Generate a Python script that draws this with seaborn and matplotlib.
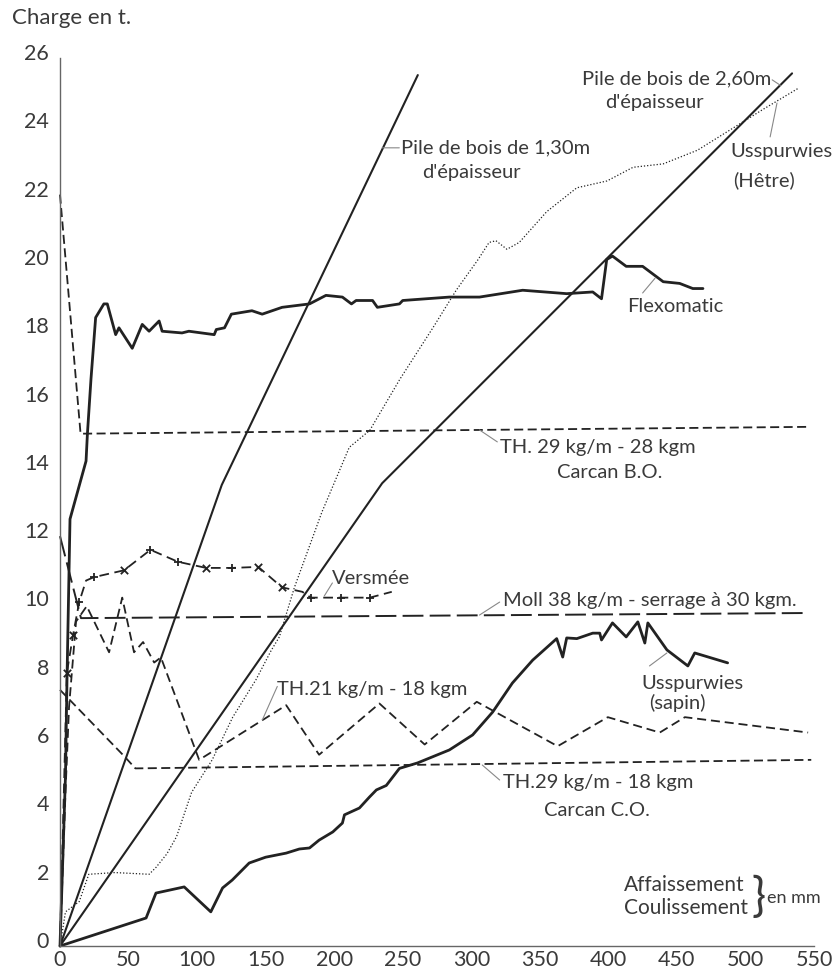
import matplotlib
matplotlib.use("Agg")
import matplotlib.pyplot as plt
import matplotlib.transforms as mtransforms
import seaborn as sns

# ---------------- data: charge (t) vs. affaissement / coulissement (mm) ----------------
x_ticks = list(range(0, 551, 50))
y_ticks = list(range(0, 27, 2))

pile130_x = [0, 118, 261]
pile130_y = [0, 13.5, 25.5]

pile260_x = [0, 235, 534]
pile260_y = [0, 13.55, 25.55]

hetre_x = [0, 4, 14, 21, 40, 65, 70, 78, 85, 96, 111, 126, 143, 154, 160, 171, 191, 211,
           226, 248, 272, 289, 305, 313, 318, 326, 335, 355, 377, 399, 418, 440, 465, 489,
           513, 538]
hetre_y = [0, 1.0, 1.3, 2.1, 2.15, 2.1, 2.3, 2.7, 3.2, 4.5, 5.45, 6.7, 7.8, 8.65, 9.05,
           10.5, 12.7, 14.6, 15.1, 16.6, 18.1, 19.2, 20.1, 20.6, 20.65, 20.4, 20.6, 21.5,
           22.2, 22.4, 22.8, 22.9, 23.3, 23.9, 24.5, 25.1]

flex_x = [0, 4, 5.1, 7.3, 19, 20, 22.6, 26, 32, 34.5, 40.6, 43, 52.7, 60, 65, 72.3, 74.5,
          89, 94, 112.5, 114, 120, 125, 140, 147.5, 162, 182, 194, 206, 212.6, 216, 228,
          231.5, 247.6, 250, 284, 306, 337.5, 369.6, 388.6, 395, 398.8, 403, 413, 425, 440,
          452, 461.6, 469]
flex_y = [0, 5, 7.8, 12.5, 14.2, 15.0, 16.6, 18.4, 18.8, 18.8, 17.9, 18.1, 17.5, 18.2,
          18.0, 18.3, 18.0, 17.95, 18.0, 17.9, 18.05, 18.1, 18.5, 18.6, 18.5, 18.7, 18.8,
          19.05, 19.0, 18.8, 18.9, 18.9, 18.7, 18.8, 18.9, 19.0, 19.0, 19.2, 19.1, 19.15,
          18.95, 20.1, 20.2, 19.9, 19.9, 19.45, 19.4, 19.25, 19.25]

th28_x = [0, 15, 545]
th28_y = [22, 15.0, 15.2]

thco_x = [0, 47, 55, 548]
thco_y = [7.5, 5.55, 5.2, 5.45]

th21_x = [0, 4, 6.6, 11.7, 19.5, 35.8, 45.4, 54, 60.6, 68.7, 73.6, 101.5, 165, 189, 233,
          266, 304, 363, 399.6, 437.5, 455.8, 545.7]
th21_y = [0, 4.5, 7.0, 9.5, 9.95, 8.6, 10.2, 8.6, 8.9, 8.3, 8.45, 5.45, 7.05, 5.6, 7.1,
          5.9, 7.15, 5.85, 6.7, 6.25, 6.7, 6.25]

moll_x = [0, 15.3, 546]
moll_y = [12.0, 9.6, 9.75]

vers_x = [0, 5, 9.5, 14, 19, 24.8, 46.7, 66, 86, 106.6, 125.6, 144.6, 162, 176.8, 183, 205,
          226, 242]
vers_y = [0, 8.0, 9.1, 10.07, 10.7, 10.8, 11.0, 11.6, 11.25, 11.07, 11.07, 11.1, 10.5,
          10.37, 10.2, 10.2, 10.2, 10.37]
vers_mark = ["", "x", "x", "+", "", "+", "x", "+", "+", "x", "+", "x", "x", "", "+", "+",
             "+", ""]

sapin_x = [0, 62.8, 70, 90.6, 110, 118.6, 125.6, 138, 150, 165, 174.6, 182, 189, 199, 206,
           207.5, 218.4, 225.7, 230.8, 238, 247.6, 260.8, 284, 301, 315.6, 330, 344.8,
           362.3, 366.7, 369.6, 377, 388.6, 393.7, 395, 403, 413, 421.5, 426.6, 428.8,
           442.7, 458, 463, 487]
sapin_y = [0, 0.82, 1.55, 1.73, 1.0, 1.7, 1.93, 2.43, 2.6, 2.72, 2.84, 2.87, 3.1, 3.34,
           3.6, 3.84, 4.04, 4.36, 4.57, 4.7, 5.2, 5.36, 5.74, 6.18, 6.85, 7.7, 8.37, 9.0,
           8.46, 9.02, 9.0, 9.16, 9.16, 8.96, 9.46, 9.05, 9.49, 8.87, 9.46, 8.67, 8.2,
           8.58, 8.29]

# ---------------- style ----------------
sns.set_theme(style="white")
plt.rcParams["font.family"] = ["Lato", "DejaVu Sans"]
plt.rcParams["lines.scale_dashes"] = False

INK = "#222222"
TXT = "#3a3a3a"
AXC = "#666666"
LEAD = "#888888"

fig = plt.figure(figsize=(8.38, 9.73), dpi=100)
ax = fig.add_axes([60 / 838, 27 / 973, 754 / 838, 888 / 973])


def curve(x, y, lw, ls="-"):
    sns.lineplot(x=x, y=y, ax=ax, sort=False, estimator=None, color=INK, lw=lw,
                 linestyle=ls, clip_on=False, solid_joinstyle="round",
                 dash_joinstyle="round")


curve(pile130_x, pile130_y, 1.5)
curve(pile260_x, pile260_y, 1.5)
curve(hetre_x, hetre_y, 0.9, (0, (0.9, 1.4)))
curve(flex_x, flex_y, 2.0)
curve(th28_x, th28_y, 1.3, (0, (6.5, 3.2)))
curve(thco_x, thco_y, 1.3, (0, (6.5, 3.2)))
curve(th21_x, th21_y, 1.3, (0, (6.5, 3.5)))
curve(moll_x, moll_y, 1.4, (0, (15, 4.5)))
curve(vers_x, vers_y, 1.3, (0, (7, 4)))
curve(sapin_x, sapin_y, 2.0)

for m in ("x", "+"):
    mx = [x for x, k in zip(vers_x, vers_mark) if k == m]
    my = [y for y, k in zip(vers_y, vers_mark) if k == m]
    sns.scatterplot(x=mx, y=my, ax=ax, marker=m, color=INK, s=28, linewidth=1.3,
                    clip_on=False)

# ---------------- axes ----------------
ax.set_xlim(0, 550)
ax.set_ylim(0, 26)
ax.set_xticks(x_ticks)
ax.set_yticks(y_ticks)
ax.set_xticklabels([str(v) for v in x_ticks])
ax.set_yticklabels([str(v) for v in y_ticks])
sns.despine(ax=ax)
for side in ("left", "bottom"):
    ax.spines[side].set_color(AXC)
    ax.spines[side].set_linewidth(1.0)
ax.tick_params(axis="both", direction="in", length=7, width=1.0, color=AXC,
               labelsize=15.5, labelcolor=TXT)
ax.tick_params(axis="x", pad=3)
ax.tick_params(axis="y", pad=8)
shift = mtransforms.ScaledTranslation(0, 6 / 100, fig.dpi_scale_trans)
for lab in ax.get_yticklabels():
    lab.set_transform(lab.get_transform() + shift)
ax.set_xlabel("")
ax.set_ylabel("")
ax.grid(False)

fig.text(12 / 838, 1 - 18 / 973, "Charge en t.", fontsize=16, color=TXT,
         ha="left", va="center")

# ---------------- curve labels ----------------
FS = 14.5


def note(x, y, s, ha="left", size=FS):
    ax.text(x, y, s, fontsize=size, color=TXT, ha=ha, va="center")


def lead(p0, p1):
    ax.annotate("", xy=p1, xytext=p0,
                arrowprops=dict(arrowstyle="-", color=LEAD, lw=0.8,
                                shrinkA=0, shrinkB=0))


note(248.5, 23.37, "Pile de bois de 1,30m")
note(264.4, 22.66, "d'épaisseur")
lead((235, 23.37), (247.5, 23.37))

note(380.6, 25.39, "Pile de bois de 2,60m")
note(398, 24.71, "d'épaisseur")
lead((519.5, 25.36), (525.5, 25.2))

note(488.7, 23.25, "Usspurwies")
note(490.9, 22.43, "(Hêtre)")
lead((518, 23.69), (523, 24.68))

note(414, 18.71, "Flexomatic")
lead((425, 19.12), (434, 19.55))

note(320.7, 14.61, "TH. 29 kg/m - 28 kgm")
note(401, 13.85, "Carcan B.O.", ha="center")
lead((306, 15.11), (319, 14.76))

note(198.7, 10.75, "Versmée")
lead((192.8, 10.25), (198.7, 10.63))

note(322.9, 10.13, "Moll 38 kg/m - serrage à 30 kgm.")
lead((306, 9.69), (320.7, 10.07))

note(158.5, 7.5, "TH.21 kg/m - 18 kgm")
lead((147.6, 6.62), (158.5, 7.6))

note(461, 7.7, "Usspurwies", ha="center")
note(450.7, 7.12, "(sapin)", ha="center")
lead((430, 8.2), (442.7, 8.58))

note(322.9, 4.8, "TH.29 kg/m - 18 kgm")
note(391.5, 3.98, "Carcan C.O.", ha="center")
lead((308, 5.3), (320.7, 4.86))

note(411.5, 1.79, "Affaissement", size=15)
note(411.5, 1.11, "Coulissement", size=15)
ax.text(504.5, 1.43, "}", fontsize=34, color=TXT, ha="left", va="center")
note(516, 1.4, "en mm", size=13)

fig.savefig("out.png", dpi=100)
